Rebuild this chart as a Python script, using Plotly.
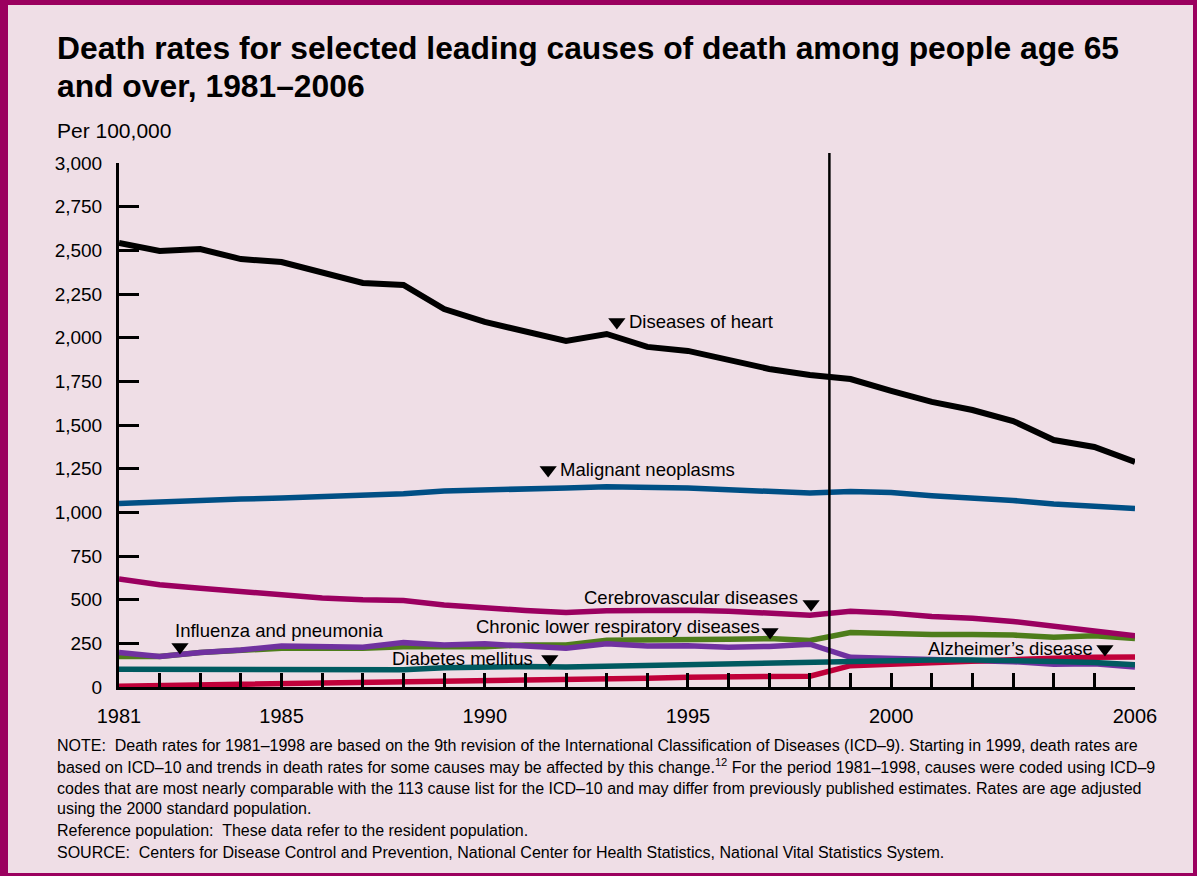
import plotly.graph_objects as go

years = list(range(1981, 2007))

heart = [2542, 2496, 2507, 2450, 2433, 2370, 2313, 2302, 2164, 2090, 2038, 1981, 2021,
         1947, 1924, 1872, 1821, 1786, 1763, 1695, 1632, 1586, 1523, 1414, 1374, 1288]
malignant = [1050, 1061, 1068, 1076, 1082, 1090, 1096, 1106, 1122, 1130, 1138, 1140, 1146,
             1144, 1140, 1130, 1119, 1110, 1119, 1113, 1095, 1085, 1068, 1048, 1038, 1022]
cerebro = [618, 585, 566, 547, 532, 509, 499, 495, 470, 451, 438, 426, 436,
           438, 440, 434, 423, 411, 434, 423, 403, 394, 375, 350, 321, 293]
clrd = [174, 174, 197, 206, 222, 222, 222, 231, 228, 231, 241, 241, 268,
        268, 270, 274, 277, 266, 312, 304, 300, 300, 297, 285, 293, 277]
influenza = [197, 174, 197, 212, 235, 235, 228, 254, 241, 247, 235, 222, 247,
             235, 236, 228, 232, 245, 170, 164, 155, 155, 145, 130, 133, 115]
diabetes = [101, 100, 100, 99, 99, 98, 98, 99, 110, 117, 117, 115, 120,
            124, 127, 130, 133, 139, 150, 152, 155, 155, 153, 146, 140, 128]
alzheimer = [5, 8, 12, 17, 21, 25, 28, 31, 34, 36, 38, 40, 44,
             50, 56, 59, 60, 62, 122, 132, 140, 150, 158, 165, 170, 172]

y_ticks = list(range(0, 3001, 250))
x_tick_years = [1981, 1985, 1990, 1995, 2000, 2006]
x_tick_labels = ["1981", "1985", "1990", "1995", "2000", "2006"]

# label positions (text, x, y, anchor, triangle x, triangle y) in data units
labels = [
    ("Diseases of heart", 1993.5, 2095, "left", 1993.25, 2090),
    ("Malignant neoplasms", 1991.8, 1248, "left", 1991.56, 1242),
    ("Cerebrovascular diseases", 1997.76, 515, "right", 1998.03, 475),
    ("Chronic lower respiratory diseases", 1996.82, 349, "right", 1997.02, 315),
    ("Influenza and pneumonia", 1982.33, 326, "left", 1982.5, 229),
    ("Diabetes mellitus", 1991.24, 166, "right", 1991.6, 160),
    ("Alzheimer\u2019s disease", 2005.02, 223, "right", 2005.26, 218),
]
icd_year = 1998.48

FONT = "Liberation Sans, Arial, sans-serif"
BG = "#efdee6"
BORDER = "#9b005f"

# pixel geometry of plot area
W, H = 1197, 876
L, R, T, B = 119, 1135, 163, 687


def px(xp):
    return (xp - L) / (R - L)


def py(yp):
    return (B - yp) / (B - T)


fig = go.Figure()

series = [
    ("Chronic lower respiratory diseases", clrd, "#4e7d1b", 5.5),
    ("Influenza and pneumonia", influenza, "#7031a0", 5.5),
    ("Alzheimer's disease", alzheimer, "#c0003a", 5.5),
    ("Diabetes mellitus", diabetes, "#005a60", 5.5),
    ("Cerebrovascular diseases", cerebro, "#9b0060", 5.5),
    ("Malignant neoplasms", malignant, "#004f85", 5.5),
    ("Diseases of heart", heart, "#000000", 6),
]
for name, vals, col, w in series:
    fig.add_trace(go.Scatter(x=years, y=vals, mode="lines", name=name,
                             line=dict(color=col, width=w), showlegend=False,
                             hoverinfo="skip"))

# triangles
tri_x = [l[4] for l in labels] + [icd_year]
tri_y = [l[5] for l in labels] + [3097]
fig.add_trace(go.Scatter(x=tri_x, y=tri_y, mode="markers", cliponaxis=False,
                         marker=dict(symbol="triangle-down", size=15, color="black",
                                     line=dict(width=0)),
                         showlegend=False, hoverinfo="skip"))

annotations = []
for text, lx, ly, anchor, _, _ in labels:
    annotations.append(dict(x=lx, y=ly, xref="x", yref="y", text=text, showarrow=False,
                            xanchor=anchor, yanchor="middle",
                            font=dict(family=FONT, size=18.5, color="black")))
annotations.append(dict(x=icd_year, y=3217, xref="x", yref="y", text="ICD\u201310",
                        showarrow=False, xanchor="center", yanchor="middle",
                        font=dict(family=FONT, size=19, color="black")))

# title
annotations.append(dict(x=px(55), y=py(48), xref="paper", yref="paper",
                        text="<b>Death rates for selected leading causes of death among people age 65</b>",
                        showarrow=False, xanchor="left", yanchor="middle",
                        font=dict(family=FONT, size=31.8, color="black")))
annotations.append(dict(x=px(55), y=py(86), xref="paper", yref="paper",
                        text="<b>and over, 1981\u20132006</b>",
                        showarrow=False, xanchor="left", yanchor="middle",
                        font=dict(family=FONT, size=31.8, color="black")))
annotations.append(dict(x=px(55), y=py(130), xref="paper", yref="paper",
                        text="Per 100,000", showarrow=False, xanchor="left", yanchor="middle",
                        font=dict(family=FONT, size=21, color="black")))

notes = [
    "NOTE:  Death rates for 1981\u20131998 are based on the 9th revision of the International Classification of Diseases (ICD\u20139). Starting in 1999, death rates are",
    "based on ICD\u201310 and trends in death rates for some causes may be affected by this change.<sup>12</sup> For the period 1981\u20131998, causes were coded using ICD\u20139",
    "codes that are most nearly comparable with the 113 cause list for the ICD\u201310 and may differ from previously published estimates. Rates are age adjusted",
    "using the 2000 standard population.",
    "Reference population:  These data refer to the resident population.",
    "SOURCE:  Centers for Disease Control and Prevention, National Center for Health Statistics, National Vital Statistics System.",
]
note_y = [745, 766, 788, 809, 830, 852]
for t, yy in zip(notes, note_y):
    annotations.append(dict(x=px(55), y=py(yy), xref="paper", yref="paper", text=t,
                            showarrow=False, xanchor="left", yanchor="middle",
                            font=dict(family=FONT, size=16, color="black")))

shapes = [
    # inner pink panel over magenta paper background = border
    dict(type="rect", xref="paper", yref="paper", x0=px(8), x1=px(1193), y0=py(5), y1=py(873),
         fillcolor=BG, line=dict(width=0), layer="below"),
    # ICD-10 vertical line
    dict(type="line", xref="x", yref="paper", x0=icd_year, x1=icd_year, y0=0, y1=py(153),
         line=dict(color="black", width=2.5)),
]

fig.update_layout(
    width=W, height=H,
    margin=dict(l=L, r=W - R, t=T, b=H - B, pad=0),
    paper_bgcolor=BORDER,
    plot_bgcolor="rgba(0,0,0,0)",
    font=dict(family=FONT, color="black"),
    annotations=annotations,
    shapes=shapes,
    showlegend=False,
    xaxis=dict(range=[1981, 2006], tickvals=x_tick_years, ticktext=x_tick_labels,
               ticks="inside", ticklen=14, tickwidth=2.5, tickcolor="black",
               minor=dict(tick0=1981, dtick=1, ticks="inside", ticklen=14, tickwidth=2.5,
                          tickcolor="black", showgrid=False),
               showline=True, linecolor="black", linewidth=3,
               showgrid=False, zeroline=False, ticklabelstandoff=9,
               tickfont=dict(family=FONT, size=20, color="black")),
    yaxis=dict(range=[0, 3000], tickvals=y_ticks, tickformat=",",
               ticks="inside", ticklen=20, tickwidth=3, tickcolor="black",
               showline=True, linecolor="black", linewidth=3,
               showgrid=False, zeroline=False, ticklabelstandoff=10,
               tickfont=dict(family=FONT, size=19, color="black")),
)

fig.write_html("out.html", config={"displayModeBar": False},
               post_script="document.body.style.margin='0';document.body.style.overflow='hidden';")
